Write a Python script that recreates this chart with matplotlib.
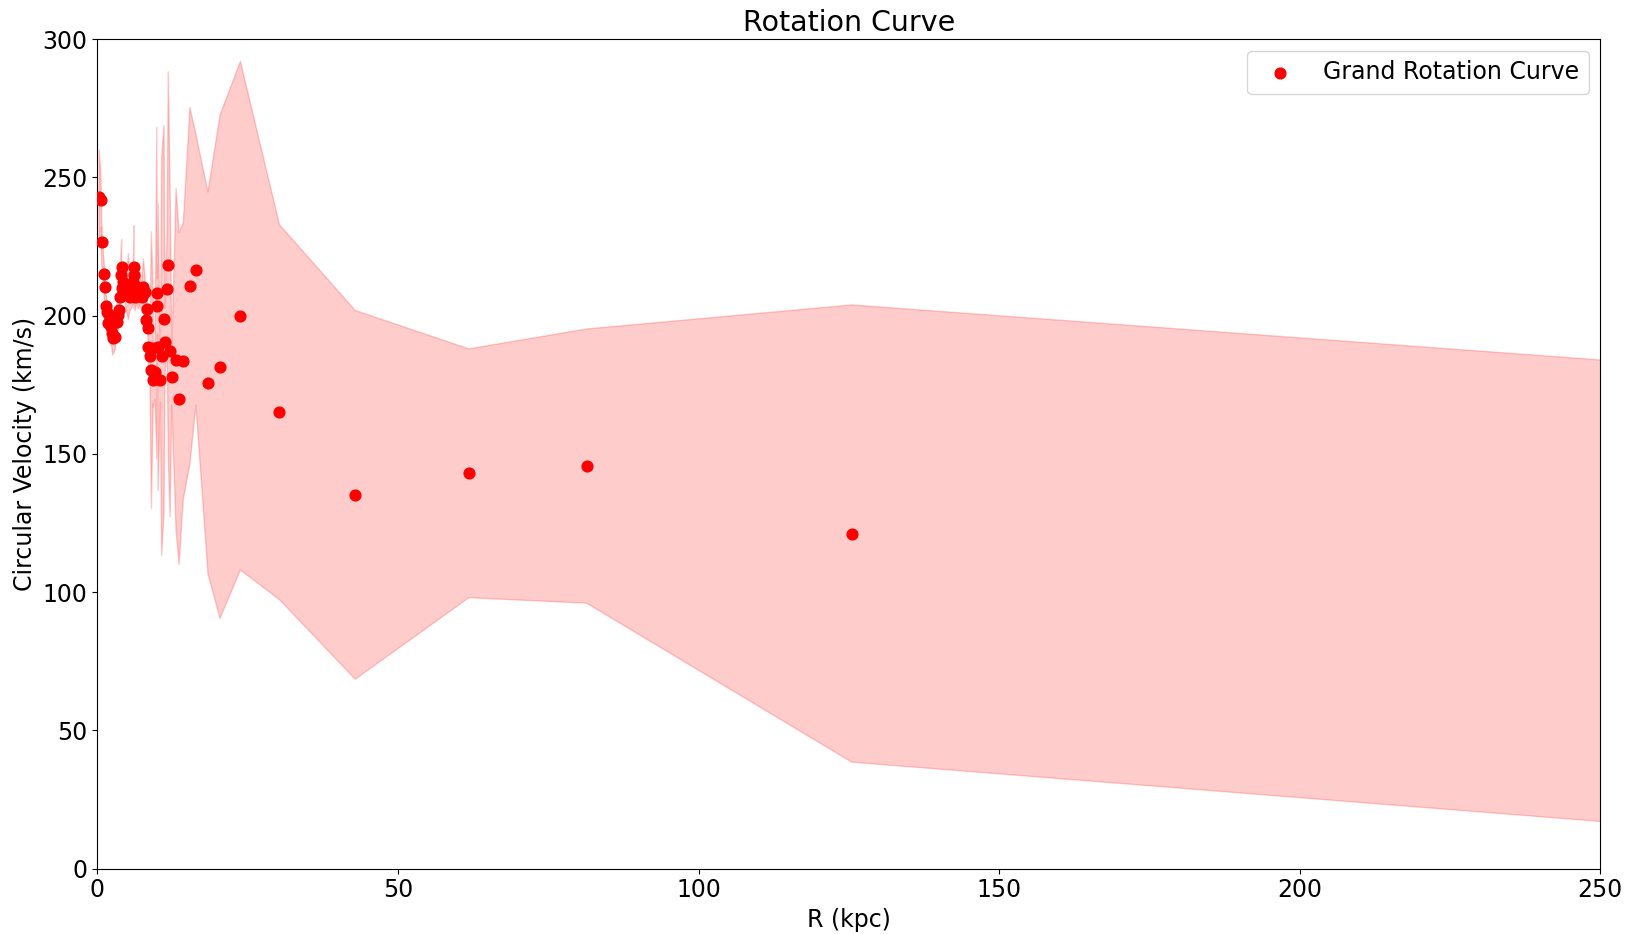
import matplotlib.pyplot as plt
import numpy as np

# Galactocentric radius (kpc), circular velocity (km/s) and its uncertainty
R = [0.3, 0.6, 0.73, 1.06, 1.23, 1.4, 1.56, 1.83, 2.0, 2.22, 2.39, 2.55, 2.94,
     3.22, 3.5, 3.66, 3.77, 3.9, 4.05, 4.05, 4.3, 4.6, 4.88, 5.16, 5.44, 5.7,
     6.0, 6.1, 6.1, 6.27, 6.55, 6.8, 7.1, 7.38, 7.65, 7.93, 8.1, 8.2, 8.5, 8.5,
     8.76, 9.0, 9.3, 9.3, 9.6, 9.9, 10.0, 10.1, 10.5, 10.7, 11.1, 11.26, 11.6,
     11.8, 12.1, 12.4, 13.1, 13.6, 14.3, 15.4, 16.4, 18.4, 20.4, 23.8, 30.3,
     42.9, 61.8, 81.4, 125.5, 320.0]
v_circ = [243, 242, 226.7, 215, 210.5, 203.6, 201.4, 197.2, 200.2, 196, 193.6,
          191.8, 192.4, 197.8, 200.2, 202, 206.8, 214.7, 217.5, 209.9, 212.3,
          209.9, 207.5, 210.5, 206.8, 208.6, 212.3, 217.5, 214.7, 206.8, 210.5,
          207.5, 209.9, 206.8, 210.5, 208.6, 198.4, 202.6, 195.4, 188.7, 185.4,
          180.3, 188.2, 176.9, 179.7, 208.1, 203.5, 188.7, 176.7, 185.4, 198.7,
          190.6, 209.6, 218.2, 187.3, 177.7, 184, 170, 183.6, 210.8, 216.6,
          175.7, 181.5, 200, 165.1, 135.2, 143, 145.6, 121.2, 88.9]
v_err = [17, 10, 8, 6, 6, 5, 5, 6, 5, 6, 5, 6, 5, 6, 5, 6, 5, 6, 10, 5, 6, 5,
         6, 12, 5, 6, 8, 15, 6, 5, 6, 5, 6, 5, 10, 6, 5, 6, 5, 8, 10, 50, 20,
         10, 10, 60, 10, 52, 8, 72, 70, 12, 20, 70, 60, 10, 62, 60, 50, 64.5,
         49, 69, 91, 92, 67.8, 66.7, 45, 49.6, 82.7, 83.9]

R = np.array(R)
v_circ = np.array(v_circ)
v_err = np.array(v_err)

fig = plt.figure(figsize=(16.33, 9.34), dpi=100)
ax = fig.add_axes([0.0596, 0.070, 0.9204, 0.888])

ax.scatter(R, v_circ, color="red", s=60, label="Grand Rotation Curve", zorder=3)
ax.fill_between(R, v_circ - v_err, v_circ + v_err, color="red", alpha=0.2)

ax.set_xlim(0, 250)
ax.set_ylim(0, 300)
ax.set_xlabel("R (kpc)", fontsize=17)
ax.set_ylabel("Circular Velocity (km/s)", fontsize=17)
ax.set_title("Rotation Curve", fontsize=20.5)
ax.tick_params(labelsize=17)
ax.legend(fontsize=17, loc="upper right")

fig.savefig("out.png", dpi=100)
